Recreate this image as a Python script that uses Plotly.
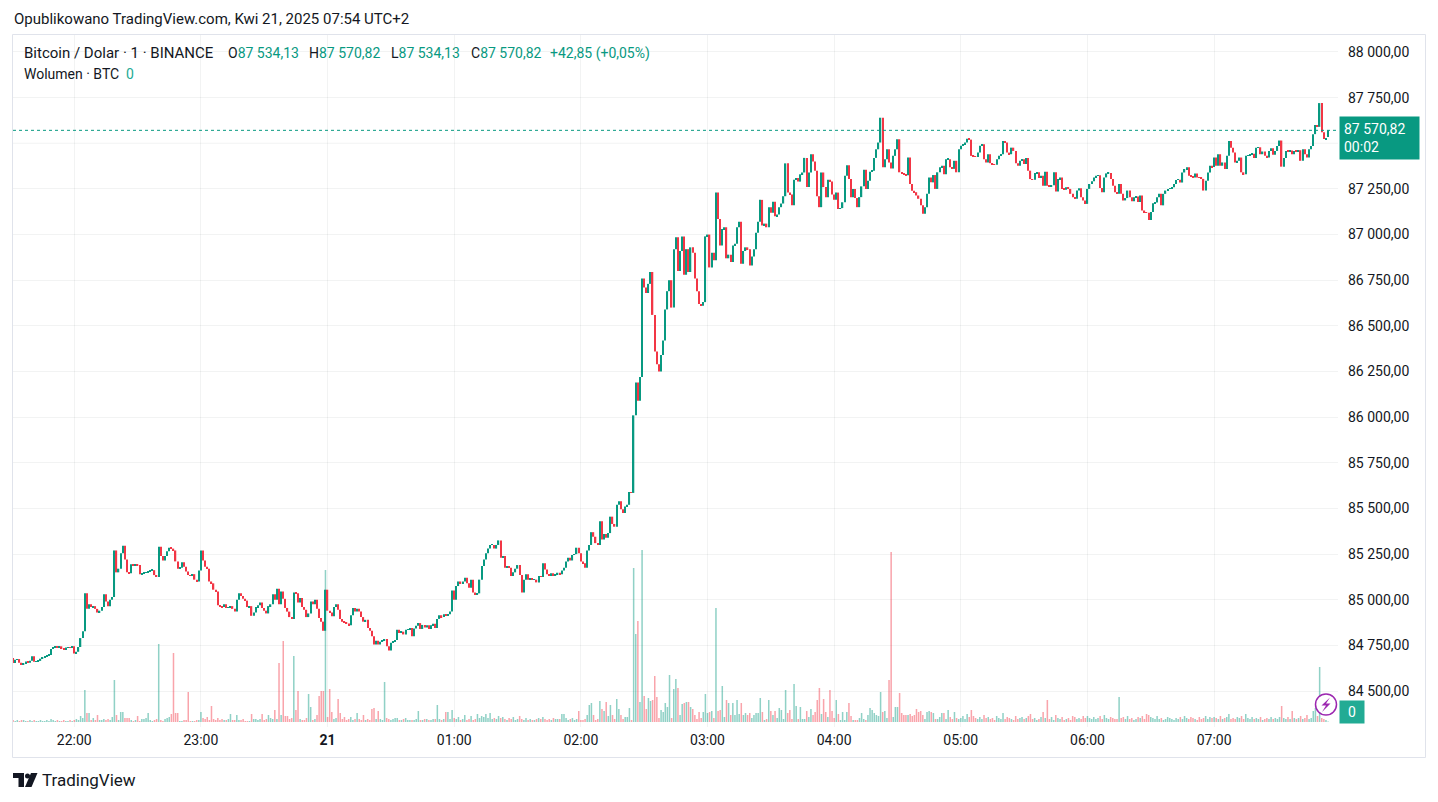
import plotly.graph_objects as go
import pandas as pd

start_time = "2025-04-20 21:31"
first_open = 84681
last_open = 87534.13

closes_2131 = [84653, 84671, 84675, 84655, 84645, 84652, 84662, 84655, 84666, 84690,
               84660, 84662, 84665, 84677, 84684, 84688, 84695, 84697, 84730, 84741,
               84742, 84738, 84745, 84735, 84728, 84738, 84741, 84738, 84745]
closes_22 = [84705, 84715, 84741, 84790, 84827, 85036, 84950, 84975, 84960, 84965,
             84950, 84930, 84940, 84960, 85030, 84990, 84965, 85000, 85015, 85270,
             85150, 85170, 85255, 85295, 85220, 85150, 85145, 85195, 85190, 85195,
             85190, 85140, 85145, 85148, 85150, 85155, 85160, 85162, 85135, 85125,
             85290, 85240, 85215, 85240, 85265, 85285, 85280, 85270, 85210, 85170,
             85175, 85205, 85180, 85155, 85135, 85130, 85140, 85110, 85100, 85160]
closes_23 = [85270, 85215, 85180, 85170, 85100, 85090, 85055, 85045, 84970, 84965,
             84960, 84975, 84955, 84960, 84965, 84950, 84935, 85000, 85035, 85020,
             85005, 84995, 84960, 84965, 84912, 84930, 84960, 84970, 84985, 84955,
             84940, 84925, 84965, 84975, 85030, 85000, 85060, 84975, 85045, 85005,
             84955, 84935, 84905, 84895, 85040, 85035, 84985, 85010, 84960, 84945,
             84905, 84925, 84990, 84975, 85000, 84950, 84900, 84880, 84830, 85055]
closes_00 = [84940, 84930, 84910, 84960, 84975, 84945, 84895, 84880, 84875, 84870,
             84860, 84915, 84955, 84935, 84950, 84935, 84905, 84880, 84890, 84845,
             84830, 84800, 84755, 84775, 84755, 84770, 84775, 84785, 84745, 84722,
             84765, 84770, 84780, 84835, 84818, 84825, 84810, 84835, 84838, 84845,
             84800, 84842, 84858, 84872, 84840, 84862, 84848, 84860, 84840, 84860,
             84868, 84845, 84895, 84915, 84905, 84920, 84912, 84920, 84935, 85050]
closes_01 = [85000, 85075, 85100, 85090, 85100, 85120, 85090, 85065, 85110, 85040,
             85030, 85035, 85110, 85185, 85220, 85255, 85280, 85300, 85300, 85280,
             85300, 85325, 85230, 85240, 85175, 85185, 85175, 85130, 85150, 85170,
             85190, 85135, 85040, 85110, 85140, 85110, 85115, 85110, 85110, 85095,
             85130, 85125, 85200, 85165, 85140, 85135, 85145, 85135, 85140, 85148,
             85140, 85160, 85175, 85210, 85230, 85215, 85245, 85250, 85285, 85255]
closes_02 = [85210, 85200, 85175, 85270, 85300, 85370, 85345, 85310, 85300, 85430,
             85330, 85360, 85340, 85365, 85455, 85415, 85400, 85520, 85540, 85495,
             85475, 85510, 85520, 85590, 85585, 86010, 86190, 86090, 86220, 86760,
             86710, 86680, 86730, 86795, 86560, 86360, 86290, 86250, 86340, 86420,
             86590, 86690, 86750, 86600, 86920, 86985, 86800, 86910, 86990, 86780,
             86920, 86795, 86930, 86900, 86760, 86690, 86620, 86610, 86630, 86990]
closes_03 = [87000, 86820, 86900, 86860, 87230, 87085, 86940, 87030, 87040, 86870,
             86890, 86850, 86940, 86950, 87040, 87070, 86840, 86910, 86930, 86920,
             86830, 86880, 86920, 87010, 87070, 87190, 87050, 87060, 87040, 87150,
             87120, 87180, 87100, 87110, 87150, 87170, 87210, 87390, 87230, 87220,
             87160, 87300, 87310, 87290, 87330, 87340, 87420, 87260, 87340, 87440,
             87400, 87350, 87210, 87150, 87340, 87260, 87205, 87300, 87290, 87220]
closes_04 = [87190, 87230, 87140, 87145, 87177, 87322, 87380, 87304, 87205, 87250,
             87200, 87150, 87205, 87264, 87355, 87250, 87295, 87344, 87350, 87420,
             87467, 87504, 87640, 87368, 87413, 87467, 87395, 87362, 87431, 87467,
             87522, 87341, 87335, 87330, 87325, 87422, 87277, 87240, 87232, 87214,
             87196, 87160, 87114, 87150, 87223, 87313, 87286, 87326, 87250, 87341,
             87368, 87377, 87330, 87413, 87413, 87368, 87360, 87404, 87341, 87467]
closes_05 = [87486, 87495, 87504, 87525, 87520, 87431, 87428, 87425, 87449, 87486,
             87495, 87413, 87395, 87440, 87391, 87386, 87382, 87413, 87431, 87440,
             87513, 87504, 87449, 87440, 87476, 87458, 87391, 87377, 87404, 87413,
             87386, 87420, 87350, 87304, 87300, 87337, 87341, 87310, 87322, 87268,
             87344, 87268, 87262, 87270, 87341, 87236, 87304, 87313, 87250, 87245,
             87259, 87250, 87223, 87205, 87196, 87241, 87254, 87205, 87187, 87168]
closes_06 = [87250, 87277, 87292, 87313, 87322, 87325, 87255, 87232, 87313, 87335,
             87337, 87305, 87268, 87232, 87223, 87277, 87223, 87187, 87200, 87241,
             87205, 87183, 87205, 87208, 87178, 87214, 87132, 87123, 87120, 87080,
             87123, 87172, 87175, 87205, 87223, 87160, 87223, 87241, 87250, 87255,
             87259, 87277, 87299, 87300, 87285, 87340, 87359, 87368, 87322, 87320,
             87313, 87335, 87313, 87310, 87305, 87241, 87295, 87340, 87377, 87370]
closes_07 = [87422, 87377, 87440, 87377, 87395, 87359, 87431, 87513, 87476, 87449,
             87395, 87404, 87422, 87341, 87331, 87431, 87435, 87440, 87442, 87420,
             87476, 87478, 87440, 87455, 87431, 87422, 87458, 87473, 87437, 87458,
             87485, 87515, 87372, 87420, 87458, 87455, 87460, 87440, 87458, 87455,
             87462, 87404, 87467, 87440, 87422, 87467, 87485, 87550, 87600, 87590,
             87720, 87560, 87523, 87527.97, 87570.82]

# volume in BTC per minute
vol_2131 = [2, 1, 2, 1, 2, 2, 1, 1, 2, 1, 2, 1, 1, 2, 1, 1, 2, 1, 3, 2,
            1, 2, 1, 1, 2, 1, 1, 2, 1]
vol_22 = [2, 3, 2, 6, 4, 32, 9, 9, 2, 4, 2, 7, 2, 2, 3, 2, 3, 2, 5, 42,
          7, 2, 10, 10, 4, 4, 4, 2, 1, 2, 6, 1, 3, 3, 4, 9, 2, 1, 2, 3,
          78, 2, 1, 3, 4, 5, 8, 69, 9, 9, 1, 1, 2, 2, 30, 1, 1, 1, 2, 2]
vol_23 = [10, 4, 3, 5, 2, 16, 3, 2, 4, 2, 3, 2, 2, 3, 8, 2, 2, 7, 2, 2,
          3, 1, 1, 1, 8, 3, 3, 2, 3, 8, 2, 3, 7, 4, 3, 12, 3, 59, 7, 81,
          6, 6, 3, 4, 66, 12, 31, 3, 2, 2, 4, 28, 15, 2, 3, 7, 26, 31, 31, 152]
vol_00 = [5, 33, 10, 3, 4, 23, 9, 3, 5, 2, 3, 5, 2, 3, 9, 3, 2, 7, 2, 3,
          2, 13, 14, 3, 11, 3, 2, 40, 4, 3, 2, 3, 4, 4, 2, 2, 3, 4, 2, 2,
          2, 2, 3, 11, 2, 2, 3, 3, 2, 2, 3, 3, 17, 3, 2, 3, 10, 10, 3, 12]
vol_01 = [4, 3, 5, 2, 3, 7, 2, 3, 6, 2, 3, 8, 4, 6, 5, 8, 4, 9, 3, 4,
          3, 6, 4, 5, 3, 2, 4, 3, 5, 2, 3, 6, 3, 2, 4, 2, 3, 2, 2, 3,
          4, 3, 5, 3, 2, 3, 2, 4, 3, 3, 3, 8, 8, 4, 2, 3, 4, 2, 3, 11]
vol_02 = [2, 2, 3, 7, 17, 19, 7, 2, 3, 21, 13, 11, 20, 6, 17, 7, 3, 23, 13, 7,
          3, 5, 5, 14, 2, 154, 88, 101, 20, 172, 26, 13, 24, 21, 22, 46, 25, 4, 12, 10,
          19, 15, 47, 4, 33, 43, 34, 7, 18, 19, 20, 20, 15, 13, 7, 3, 10, 4, 10, 28]
vol_03 = [9, 10, 11, 4, 114, 11, 12, 36, 5, 22, 19, 7, 19, 7, 22, 8, 19, 7, 9, 7,
          9, 4, 7, 9, 9, 24, 10, 2, 3, 22, 11, 7, 11, 4, 14, 12, 3, 32, 9, 12,
          3, 38, 16, 3, 15, 3, 3, 11, 5, 13, 7, 10, 22, 34, 8, 23, 10, 5, 32, 11]
vol_04 = [4, 22, 8, 2, 10, 2, 10, 19, 6, 2, 2, 2, 4, 9, 3, 2, 7, 14, 12, 9,
          7, 6, 30, 10, 11, 4, 42, 170, 5, 15, 15, 29, 9, 7, 7, 7, 8, 6, 7, 13,
          10, 11, 7, 3, 10, 11, 10, 9, 3, 3, 5, 9, 9, 3, 12, 5, 3, 10, 4, 3]
vol_05 = [4, 6, 3, 8, 5, 12, 6, 4, 3, 5, 3, 7, 4, 5, 3, 4, 2, 6, 4, 3,
          9, 3, 5, 4, 3, 2, 6, 3, 4, 5, 3, 4, 6, 8, 3, 4, 2, 3, 5, 10,
          4, 22, 3, 5, 2, 7, 4, 3, 5, 2, 3, 4, 2, 6, 5, 3, 4, 3, 6, 4]
vol_06 = [6, 4, 3, 5, 3, 4, 6, 3, 7, 4, 3, 5, 4, 3, 3, 25, 4, 5, 3, 6,
          3, 4, 2, 3, 5, 4, 6, 3, 8, 7, 5, 4, 3, 6, 3, 4, 2, 3, 5, 4,
          3, 2, 4, 3, 5, 3, 6, 4, 3, 5, 4, 3, 2, 5, 3, 4, 6, 3, 5, 4]
vol_07 = [5, 4, 3, 6, 3, 4, 5, 8, 3, 4, 3, 5, 4, 6, 3, 8, 4, 3, 5, 3,
          4, 3, 5, 2, 3, 4, 3, 5, 3, 4, 3, 5, 16, 4, 3, 5, 3, 11, 4, 3,
          4, 6, 3, 4, 7, 3, 4, 11, 14, 6, 55, 4, 3, 2, 0.4]

hour_ticks = ["2025-04-20 22:00", "2025-04-20 23:00", "2025-04-21 00:00", "2025-04-21 01:00",
              "2025-04-21 02:00", "2025-04-21 03:00", "2025-04-21 04:00", "2025-04-21 05:00",
              "2025-04-21 06:00", "2025-04-21 07:00"]
hour_labels = ["22:00", "23:00", "<b>21</b>", "01:00", "02:00", "03:00", "04:00",
               "05:00", "06:00", "07:00"]
# 87 500 sits under the last-price badge, so TradingView hides it
price_ticks = [84500, 84750, 85000, 85250, 85500, 85750, 86000, 86250, 86500,
               86750, 87000, 87250, 87750, 88000]
grid_prices = [87500]

closes = (closes_2131 + closes_22 + closes_23 + closes_00 + closes_01 + closes_02
          + closes_03 + closes_04 + closes_05 + closes_06 + closes_07)
volumes = (vol_2131 + vol_22 + vol_23 + vol_00 + vol_01 + vol_02
           + vol_03 + vol_04 + vol_05 + vol_06 + vol_07)
assert len(closes) == len(volumes), (len(closes), len(volumes))

times = pd.date_range(start_time, periods=len(closes), freq="min")
opens = [first_open] + closes[:-1]
opens[-1] = last_open

UP = "#089981"
DOWN = "#F23645"
TEXT = "#131722"
GRID = "rgba(42,46,57,0.06)"
FONT = "Roboto, 'Open Sans', sans-serif"

rising = [c >= o for o, c in zip(opens, closes)]
body_base = [min(o, c) for o, c in zip(opens, closes)]
body_len = [max(abs(c - o), 3.0) for o, c in zip(opens, closes)]
body_colors = [UP if r else DOWN for r in rising]
vol_colors = ["rgba(8,153,129,0.45)" if r else "rgba(242,54,69,0.45)" for r in rising]

# pixel -> paper helpers (plot area is x 13..1338, y 35..727 in the page)
def px(x):
    return (x - 13) / 1325

def py(y):
    return (727 - y) / 692

fig = go.Figure()

fig.add_trace(go.Bar(x=times, y=volumes, width=60000 * 0.72,
                     marker=dict(color=vol_colors, line=dict(width=0)),
                     yaxis="y", hoverinfo="skip", showlegend=False))

fig.add_trace(go.Bar(x=times, y=body_len, base=body_base, width=60000 * 0.62,
                     marker=dict(color=body_colors, line=dict(width=0)),
                     yaxis="y2", hoverinfo="skip", showlegend=False))

last_close = closes[-1]

shapes = [
    # outer frame
    dict(type="rect", xref="paper", yref="paper", x0=px(12.5), x1=px(1425.5),
         y0=py(757.5), y1=py(34.5), line=dict(color="#e0e3eb", width=1), layer="below"),
    # last price line
    dict(type="line", xref="paper", yref="y2", x0=0, x1=1, y0=last_close, y1=last_close,
         line=dict(color=UP, width=1, dash="dot")),
    # lightning badge
    dict(type="circle", xref="paper", yref="paper", x0=px(1315.5), x1=px(1336.5),
         y0=py(715), y1=py(694), line=dict(color="#9c27b0", width=1.5), fillcolor="white"),
    dict(type="path", xref="paper", yref="paper",
         path=f"M{px(1330)},{py(697.5)} L{px(1321.5)},{py(705.5)} L{px(1326)},{py(705.5)} "
              f"L{px(1322)},{py(712)} L{px(1330.5)},{py(703.5)} L{px(1326)},{py(703.5)} Z",
         line=dict(width=0), fillcolor="#9c27b0"),
    # TradingView logo
    dict(type="path", xref="paper", yref="paper",
         path=f"M{px(13)},{py(773)} L{px(24)},{py(773)} L{px(24)},{py(787)} L{px(18.5)},{py(787)} "
              f"L{px(18.5)},{py(778)} L{px(13)},{py(778)} Z",
         line=dict(width=0), fillcolor=TEXT),
    dict(type="circle", xref="paper", yref="paper", x0=px(25), x1=px(30),
         y0=py(778.5), y1=py(773.5), line=dict(width=0), fillcolor=TEXT),
    dict(type="path", xref="paper", yref="paper",
         path=f"M{px(31)},{py(773)} L{px(37.5)},{py(773)} L{px(31.5)},{py(787)} L{px(25)},{py(787)} Z",
         line=dict(width=0), fillcolor=TEXT),
]
for g in grid_prices:
    shapes.append(dict(type="line", xref="paper", yref="y2", x0=0, x1=1, y0=g, y1=g,
                       line=dict(color=GRID, width=1), layer="below"))

nb = "\u00a0"


def head(text, x, color=TEXT, size=14):
    return dict(text=text, xref="paper", yref="paper", x=px(x), y=py(53),
                xanchor="left", yanchor="middle", showarrow=False,
                font=dict(size=size, color=color))


def ohlc(letter, value):
    return f'{letter}<span style="color:{UP}">{value}</span>'


annotations = [
    dict(text="Opublikowano TradingView.com, Kwi 21, 2025 07:54 UTC+2", xref="paper", yref="paper",
         x=px(12), y=py(19), xanchor="left", yanchor="middle", showarrow=False,
         font=dict(size=15, color=TEXT)),
    head(f"Bitcoin / Dolar{nb}·{nb}1{nb}·{nb}BINANCE", 22, size=15),
    head(ohlc("O", f"87{nb}534,13"), 226),
    head(ohlc("H", f"87{nb}570,82"), 307),
    head(ohlc("L", f"87{nb}534,13"), 389),
    head(ohlc("C", f"87{nb}570,82"), 469),
    head("+42,85 (+0,05%)", 548, UP),
    dict(text=f"Wolumen{nb}·{nb}BTC{nb}{nb}<span style=\"color:#22ab94\">0</span>",
         xref="paper", yref="paper", x=px(22), y=py(74), xanchor="left", yanchor="middle",
         showarrow=False, font=dict(size=14, color=TEXT)),
    dict(text="87 570,82<br>00:02", xref="paper", yref="y2", x=1, y=last_close,
         xanchor="left", yanchor="top", xshift=1, yshift=14, showarrow=False, align="left",
         bgcolor=UP, borderpad=4, width=71, font=dict(size=14, color="white")),
    dict(text="0", xref="paper", yref="y", x=1, y=10, xanchor="left", yanchor="middle",
         xshift=1, showarrow=False, bgcolor="#22ab94", borderpad=3, width=18,
         font=dict(size=14, color="white")),
    dict(text="TradingView", xref="paper", yref="paper", x=px(40), y=py(780),
         xanchor="left", yanchor="middle", showarrow=False, font=dict(size=17, color=TEXT)),
]

# the page body has an 8px margin, so the figure is 8px smaller and its margins 8px less
fig.update_layout(
    width=1430, height=794,
    margin=dict(l=5, r=100, t=27, b=75),
    paper_bgcolor="white", plot_bgcolor="white",
    font=dict(family=FONT, size=14, color=TEXT),
    separators=", ",
    showlegend=False,
    barmode="overlay",
    xaxis=dict(type="date", range=["2025-04-20 21:30:58", "2025-04-21 07:58:42"],
               tickvals=hour_ticks, ticktext=hour_labels, showgrid=True, gridcolor=GRID,
               zeroline=False, showline=False, ticks="", ticklabelstandoff=3,
               tickfont=dict(size=14, color=TEXT)),
    yaxis=dict(range=[-5, 687], visible=False, showgrid=False, fixedrange=True),
    yaxis2=dict(overlaying="y", side="right", range=[84303, 88093], tickvals=price_ticks,
                tickformat=",.2f", showgrid=True, gridcolor=GRID, zeroline=False,
                showline=False, ticks="", ticklabelstandoff=9,
                tickfont=dict(size=14, color=TEXT)),
    shapes=shapes,
    annotations=annotations,
)

fig.write_html("out.html")
